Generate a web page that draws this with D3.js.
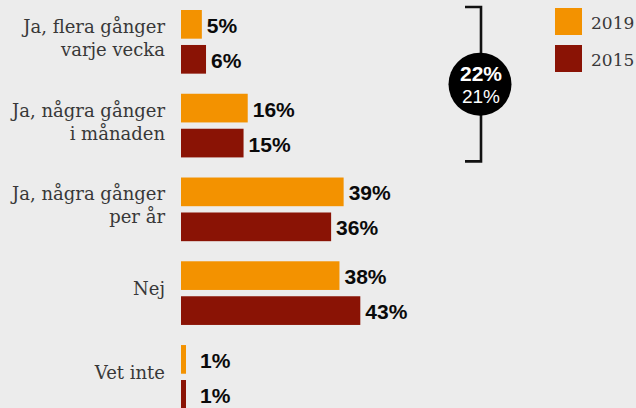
<!DOCTYPE html>
<html lang="sv">
<head>
<meta charset="utf-8">
<script src="https://cdn.jsdelivr.net/npm/d3@7"></script>
<style>
  html, body { margin: 0; padding: 0; background: #ececec; }
  svg { display: block; }
</style>
</head>
<body>
<script>
// Svar per kategori, andel i procent
const categories = [
  ["Ja, flera gånger", "varje vecka"],
  ["Ja, några gånger", "i månaden"],
  ["Ja, några gånger", "per år"],
  ["Nej"],
  ["Vet inte"]
];
const years = ["2019", "2015"];
const values2019 = [5, 16, 39, 38, 1];
const values2015 = [6, 15, 36, 43, 1];
const bracketTotals = ["22%", "21%"]; // summan av de två första svaren

const colors = { "2019": "#f39200", "2015": "#8a1305" };

const W = 636, H = 408;
const svg = d3.select("body").append("svg").attr("width", W).attr("height", H);
svg.append("rect").attr("width", W).attr("height", H).attr("fill", "#ececec");

const keys = categories.map((c, i) => "c" + i);
const y = d3.scaleBand().domain(keys).range([10, 408.7]).paddingInner(0.24).paddingOuter(0).align(0);
const ySub = d3.scaleBand().domain(years).range([0, y.bandwidth()]).paddingInner(0.18);
const x = d3.scaleLinear().domain([0, 100]).range([181, 598]);

const rows = keys.map((k, i) => ({
  key: k, lines: categories[i],
  vals: [{ year: "2019", v: values2019[i] }, { year: "2015", v: values2015[i] }]
}));

const g = svg.selectAll("g.row").data(rows).join("g")
  .attr("class", "row")
  .attr("transform", d => `translate(0,${y(d.key)})`);

// Bars
g.selectAll("rect").data(d => d.vals).join("rect")
  .attr("x", x(0))
  .attr("y", d => ySub(d.year))
  .attr("width", d => Math.max(x(d.v) - x(0), 5))
  .attr("height", ySub.bandwidth())
  .attr("fill", d => colors[d.year]);

// Value labels
g.selectAll("text.val").data(d => d.vals).join("text")
  .attr("class", "val")
  .attr("x", d => Math.max(x(d.v) + 5, x(0) + 19))
  .attr("y", d => ySub(d.year) + ySub.bandwidth() / 2 + 8.5)
  .attr("font-family", "'Liberation Sans', Arial, sans-serif")
  .attr("font-weight", "bold")
  .attr("font-size", 21)
  .attr("fill", "#0a0a0a")
  .text(d => d.v + "%");

// Category labels
const mid = y.bandwidth() / 2;
g.append("text")
  .attr("text-anchor", "end")
  .attr("font-family", "'DejaVu Serif', serif")
  .attr("font-size", 18)
  .attr("fill", "#383838")
  .selectAll("tspan").data(d => d.lines.map((t, j) => ({ t, j, n: d.lines.length }))).join("tspan")
  .attr("x", 165)
  .attr("y", d => d.n === 1 ? mid + 2 : mid - 9 + d.j * 23)
  .text(d => d.t);

// Bracket around the two first categories
const bx = 481;
const by0 = y(keys[0]) - 3;
const by1 = y(keys[1]) + y.bandwidth() + 4;
svg.append("path")
  .attr("d", `M${bx - 16},${by0}H${bx}V${by1}H${bx - 16}`)
  .attr("fill", "none")
  .attr("stroke", "#111")
  .attr("stroke-width", 2.6);

const cy = (by0 + by1) / 2;
svg.append("circle").attr("cx", bx - 1).attr("cy", cy).attr("r", 31.5).attr("fill", "#000");
svg.append("text")
  .attr("x", bx).attr("y", cy - 3)
  .attr("text-anchor", "middle")
  .attr("font-family", "'Liberation Sans', Arial, sans-serif")
  .attr("font-weight", "bold").attr("font-size", 21).attr("fill", "#fff")
  .text(bracketTotals[0]);
svg.append("text")
  .attr("x", bx).attr("y", cy + 19)
  .attr("text-anchor", "middle")
  .attr("font-family", "'Liberation Sans', Arial, sans-serif")
  .attr("font-size", 19).attr("fill", "#fff")
  .text(bracketTotals[1]);

// Legend
const legend = svg.selectAll("g.leg").data(years).join("g")
  .attr("class", "leg")
  .attr("transform", (d, i) => `translate(555,${8 + i * 37})`);
legend.append("rect").attr("width", 27).attr("height", 27).attr("fill", d => colors[d]);
legend.append("text")
  .attr("x", 36).attr("y", 20.5)
  .attr("font-family", "'DejaVu Serif', serif")
  .attr("font-size", 17)
  .attr("fill", "#383838")
  .text(d => d);
</script>
</body>
</html>
